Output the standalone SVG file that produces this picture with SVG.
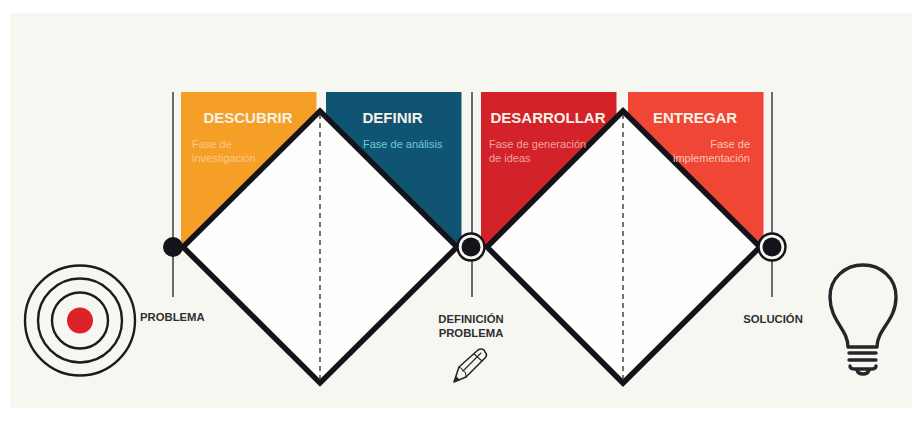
<svg xmlns="http://www.w3.org/2000/svg" width="923" height="434" viewBox="0 0 923 434">
<style>
.sans{font-family:"Liberation Sans",Arial,sans-serif}
.title{font-size:15px;font-weight:700;fill:#f6f1e6}
.sub{font-size:11px}
.lab{font-size:11.300px;font-weight:700;fill:#2f2f2f}
.rule{stroke:#3a3f45;stroke-width:1.5;fill:none}
.dia{fill:#fdfdfd;stroke:#14131a;stroke-width:5.500;stroke-linejoin:miter}
.dash{stroke:#2a2a30;stroke-width:1.3;stroke-dasharray:5 4;fill:none}
.ring{fill:none;stroke:#1c1b20;stroke-width:2.400}
.ico{fill:none;stroke:#26262a;stroke-linecap:round;stroke-linejoin:round}
</style>
<rect width="923" height="434" fill="#fff"/>
<rect x="10" y="13" width="902" height="395" fill="#f7f7f2"/>
<g id="phase-descubrir">
<rect x="181" y="92" width="135.500" height="155" fill="#f69f27"/>
<text class="sans title" x="248" y="123" text-anchor="middle">DESCUBRIR</text>
</g>
<g id="phase-definir">
<rect x="326" y="92" width="135.500" height="155" fill="#0f5573"/>
<text class="sans title" x="392.500" y="123" text-anchor="middle">DEFINIR</text>
<text class="sans sub" x="363" y="148" fill="#6fc9d6">Fase de análisis</text>
</g>
<g id="phase-desarrollar">
<rect x="481" y="92" width="135.500" height="155" fill="#d3222a"/>
<text class="sans title" x="548" y="123" text-anchor="middle">DESARROLLAR</text>
</g>
<g id="phase-entregar">
<rect x="628" y="92" width="135.500" height="155" fill="#ef4635"/>
<text class="sans title" x="695" y="123" text-anchor="middle">ENTREGAR</text>
</g>
<g id="connectors">
<path class="rule" d="M173 92V297M472 92V297M772 92V297"/>
</g>
<g id="diamond-1">
<path class="dia" d="M183 247L320 111L457 247L320 383Z"/>
<path class="dash" d="M320 114V380"/>
</g>
<g id="diamond-2">
<path class="dia" d="M487 247L623 111L760 247L623 383Z"/>
<path class="dash" d="M623 114V380"/>
</g>
<g id="phase-text">
<text class="sans sub" x="192" y="148" fill="#f9c987">Fase de</text>
<text class="sans sub" x="192" y="161.500" fill="#f9c987">investigación</text>
<text class="sans sub" x="489" y="148" fill="#f0a5a0">Fase de generación</text>
<text class="sans sub" x="489" y="161.500" fill="#f0a5a0">de ideas</text>
<text class="sans sub" x="750" y="148" fill="#fbc5b5" text-anchor="end">Fase de</text>
<text class="sans sub" x="750" y="161.500" fill="#fbc5b5" text-anchor="end">implementación</text>
</g>
<g id="point-problema">
<circle cx="173" cy="247" r="10" fill="#14131a"/>
<text class="sans lab" x="140" y="321">PROBLEMA</text>
</g>
<g id="point-definicion">
<circle cx="471" cy="247" r="13.500" fill="#f7f7f2" stroke="#14131a" stroke-width="2.500"/>
<circle cx="471" cy="247" r="9.500" fill="#14131a"/>
<text class="sans lab" x="471" y="323" text-anchor="middle">DEFINICIÓN</text>
<text class="sans lab" x="471" y="337" text-anchor="middle">PROBLEMA</text>
</g>
<g id="point-solucion">
<circle cx="772" cy="247" r="13.500" fill="#f7f7f2" stroke="#14131a" stroke-width="2.500"/>
<circle cx="772" cy="247" r="9.500" fill="#14131a"/>
<text class="sans lab" x="773" y="323" text-anchor="middle">SOLUCIÓN</text>
</g>
<g id="icon-target">
<circle class="ring" cx="80" cy="320.500" r="55"/>
<circle class="ring" cx="80" cy="320.500" r="42"/>
<circle class="ring" cx="80" cy="320.500" r="28"/>
<circle cx="80" cy="320.500" r="13" fill="#dc2128"/>
</g>
<g id="icon-pencil">
<path class="ico" stroke-width="1.600" d="M454 382L459 367L478 350Q481 348 484 350L485 352Q488 355 485 358L466 377Z"/>
<path class="ico" stroke-width="1.100" d="M459 367Q462 368 463 371Q466 371 466 377M463 371L481 353M474 354L482 361"/>
<path d="M454 382L456 376L460 380Z" fill="#26262a"/>
</g>
<g id="icon-bulb">
<path class="ico" stroke-width="3.400" d="M848 347C848 329 830 321 830 297C830 278 845 265 863 265C881 265 896 278 896 297C896 321 877 329 877 347Z"/>
<path class="ico" stroke-width="3.400" d="M849 353H876M849 360H876M850 366Q850 369 855 369H871Q876 369 876 366M857 370Q858 374 863 374Q868 374 869 370"/>
</g>
</svg>
